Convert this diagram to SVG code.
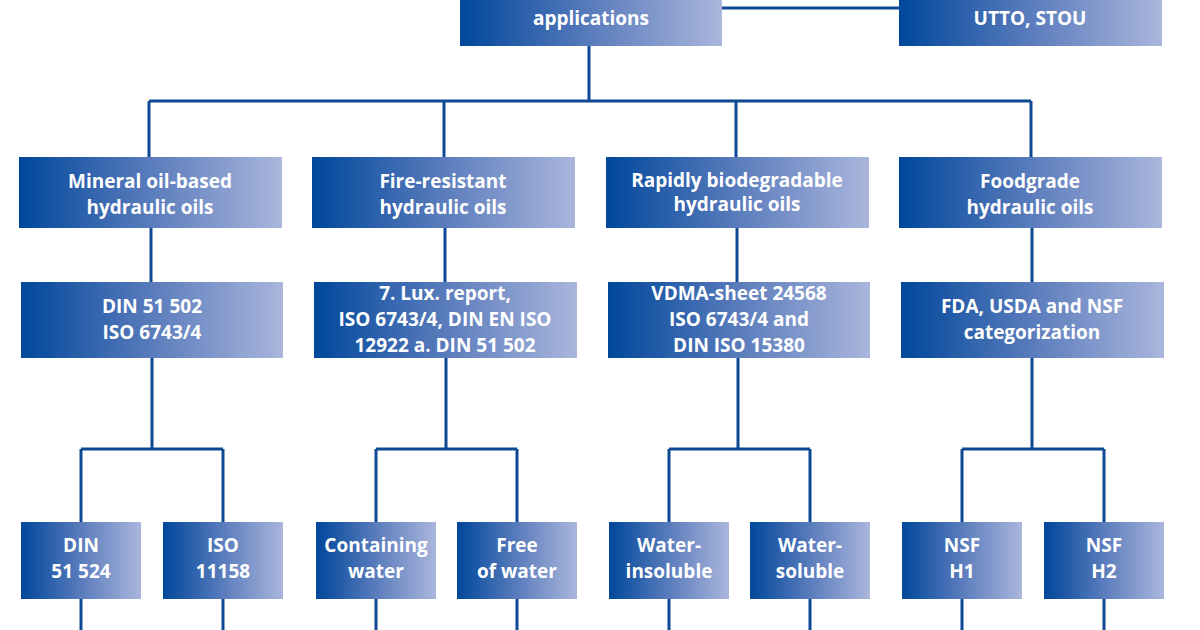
<svg xmlns="http://www.w3.org/2000/svg" width="1200" height="630" viewBox="0 0 1200 630">
<defs><linearGradient id="g" x1="0" y1="0" x2="1" y2="0"><stop offset="0" stop-color="#00479b"/><stop offset="0.5" stop-color="#5a7cbc"/><stop offset="1" stop-color="#aab6dc"/></linearGradient></defs>
<style>
.b{fill:url(#g)}
.t{font-family:"Open Sans","Liberation Sans",sans-serif;font-weight:bold;font-size:19px;fill:#fff;text-anchor:middle}
.c{stroke:#0e4a94;stroke-width:3;fill:none}
</style>
<rect width="1200" height="630" fill="#fff"/>
<g id="connectors" class="c">
<path d="M722 8H899M589 46V101M149 101H1031M149 101V157M444 101V157M736 101V157M1031 101V157"/>
<path d="M151 228V282M445 228V282M737 228V282M1032 228V282"/>
<path d="M152 358V449M81 449H223M81 449V522M223 449V522"/>
<path d="M446 358V449M376 449H517M376 449V522M517 449V522"/>
<path d="M738 358V449M669 449H810M669 449V522M810 449V522"/>
<path d="M1032 358V449M962 449H1104M962 449V522M1104 449V522"/>
<path d="M81 599V630M223 599V630M376 599V630M517 599V630M669 599V630M810 599V630M962 599V630M1104 599V630"/>
</g>
<g id="top1"><rect class="b" x="460" y="-30" width="262" height="76"/><text class="t" x="591" y="25">applications</text></g>
<g id="top2"><rect class="b" x="899" y="-30" width="263" height="76"/><text class="t" x="1030" y="25">UTTO, STOU</text></g>
<g id="n1"><rect class="b" x="19" y="157" width="263" height="71"/><text class="t" x="150" y="188">Mineral oil-based</text><text class="t" x="150" y="214">hydraulic oils</text></g>
<g id="n2"><rect class="b" x="312" y="157" width="263" height="71"/><text class="t" x="443" y="188">Fire-resistant</text><text class="t" x="443" y="214">hydraulic oils</text></g>
<g id="n3"><rect class="b" x="606" y="157" width="263" height="71"/><text class="t" x="737" y="187">Rapidly biodegradable</text><text class="t" x="737" y="211">hydraulic oils</text></g>
<g id="n4"><rect class="b" x="899" y="157" width="263" height="71"/><text class="t" x="1030" y="188">Foodgrade</text><text class="t" x="1030" y="214">hydraulic oils</text></g>
<g id="s1"><rect class="b" x="21" y="282" width="262" height="76"/><text class="t" x="152" y="313">DIN 51 502</text><text class="t" x="152" y="339">ISO 6743/4</text></g>
<g id="s2"><rect class="b" x="314" y="282" width="263" height="76"/><text class="t" x="445" y="300">7. Lux. report,</text><text class="t" x="445" y="326">ISO 6743/4, DIN EN ISO</text><text class="t" x="445" y="352">12922 a. DIN 51 502</text></g>
<g id="s3"><rect class="b" x="608" y="282" width="262" height="76"/><text class="t" x="739" y="300">VDMA-sheet 24568</text><text class="t" x="739" y="326">ISO 6743/4 and</text><text class="t" x="739" y="352">DIN ISO 15380</text></g>
<g id="s4"><rect class="b" x="901" y="282" width="263" height="76"/><text class="t" x="1032" y="313">FDA, USDA and NSF</text><text class="t" x="1032" y="339">categorization</text></g>
<g id="l1"><rect class="b" x="21" y="522" width="120" height="77"/><text class="t" x="81" y="552">DIN</text><text class="t" x="81" y="578">51 524</text></g>
<g id="l2"><rect class="b" x="163" y="522" width="120" height="77"/><text class="t" x="223" y="552">ISO</text><text class="t" x="223" y="578">11158</text></g>
<g id="l3"><rect class="b" x="316" y="522" width="120" height="77"/><text class="t" x="376" y="552">Containing</text><text class="t" x="376" y="578">water</text></g>
<g id="l4"><rect class="b" x="457" y="522" width="120" height="77"/><text class="t" x="517" y="552">Free</text><text class="t" x="517" y="578">of water</text></g>
<g id="l5"><rect class="b" x="609" y="522" width="120" height="77"/><text class="t" x="669" y="552">Water-</text><text class="t" x="669" y="578">insoluble</text></g>
<g id="l6"><rect class="b" x="750" y="522" width="120" height="77"/><text class="t" x="810" y="552">Water-</text><text class="t" x="810" y="578">soluble</text></g>
<g id="l7"><rect class="b" x="902" y="522" width="120" height="77"/><text class="t" x="962" y="552">NSF</text><text class="t" x="962" y="578">H1</text></g>
<g id="l8"><rect class="b" x="1044" y="522" width="120" height="77"/><text class="t" x="1104" y="552">NSF</text><text class="t" x="1104" y="578">H2</text></g>
</svg>
